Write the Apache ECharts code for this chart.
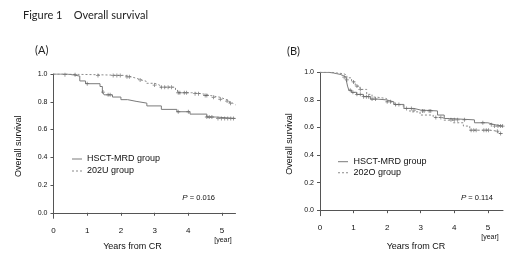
<!DOCTYPE html>
<html><head><meta charset="utf-8">
<script src="https://cdn.jsdelivr.net/npm/echarts@6/dist/echarts.min.js"></script>
<style>html,body{margin:0;padding:0;background:#fff}#c{width:520px;height:259px}</style>
</head><body><div id="c"></div>
<script>
// ---- Data ----
const yTicks = [0, 0.2, 0.4, 0.6, 0.8, 1.0];
const xTicks = [0, 1, 2, 3, 4, 5];

// Panel A: HSCT-MRD group vs 202U group  [years, survival]
const hsctA = [[0,1],[0.4,0.993],[0.6,0.985],[0.78,0.95],[0.95,0.93],[1.38,0.91],[1.45,0.87],[1.5,0.85],[1.75,0.834],[2.0,0.815],[2.2,0.803],[2.45,0.79],[2.77,0.77],[3.2,0.745],[3.66,0.728],[4.05,0.711],[4.55,0.69],[4.8,0.68],[5.4,0.68]];
const u202A = [[0,1],[0.3,0.995],[1.25,0.99],[2.1,0.98],[2.3,0.97],[2.45,0.957],[2.6,0.948],[2.75,0.933],[3.0,0.92],[3.15,0.905],[3.62,0.885],[3.68,0.865],[4.1,0.858],[4.4,0.845],[4.65,0.832],[4.95,0.818],[5.1,0.805],[5.22,0.79],[5.32,0.778],[5.4,0.778]];
const hsctACens = [1.0, 1.47, 1.62, 1.68, 3.7, 4.0, 4.55, 4.62, 4.7, 4.88, 4.98, 5.08, 5.17, 5.26, 5.34];
const u202ACens = [0.34, 0.64, 1.32, 1.77, 1.88, 1.98, 2.18, 2.25, 2.57, 3.0, 3.2, 3.3, 3.4, 3.5, 3.7, 3.75, 3.88, 3.95, 4.2, 4.3, 4.5, 4.55, 4.75, 4.95, 5.15, 5.25];

// Panel B: HSCT-MRD group vs 202O group
const hsctB = [[0,1],[0.25,0.995],[0.4,0.99],[0.5,0.985],[0.6,0.975],[0.7,0.965],[0.78,0.945],[0.82,0.9],[0.86,0.87],[0.94,0.855],[1.09,0.84],[1.29,0.823],[1.5,0.806],[1.7,0.8],[1.98,0.786],[2.2,0.767],[2.5,0.738],[2.8,0.726],[3.0,0.72],[3.5,0.69],[3.7,0.665],[3.85,0.655],[4.6,0.634],[5.0,0.62],[5.2,0.61],[5.45,0.61]];
const o202B = [[0,1],[0.35,0.995],[0.5,0.99],[0.7,0.98],[0.8,0.96],[0.94,0.93],[1.05,0.9],[1.19,0.876],[1.39,0.84],[1.55,0.82],[1.69,0.81],[1.98,0.786],[2.2,0.765],[2.48,0.738],[2.68,0.713],[2.98,0.69],[3.37,0.673],[3.67,0.653],[3.97,0.634],[4.27,0.61],[4.46,0.58],[5.06,0.573],[5.3,0.556],[5.45,0.556]];
const hsctBCens = [0.72, 0.8, 0.9, 0.98, 1.1, 1.2, 1.3, 1.38, 1.45, 1.55, 1.65, 2.0, 2.1, 2.25, 2.35, 2.72, 2.8, 3.05, 3.1, 3.25, 3.3, 3.9, 4.0, 4.1, 4.3, 4.85, 5.1, 5.2, 5.3, 5.38, 5.44];
const o202BCens = [1.0, 1.1, 1.2, 2.58, 3.45, 3.6, 4.5, 4.58, 4.65, 4.88, 4.95, 5.02, 5.28, 5.38];

const labelsA = ['HSCT-MRD group', '202U group'];
const labelsB = ['HSCT-MRD group', '202O group'];

// step lookup of a KM curve at time t
function stepAt(curve, t){ let v = curve[0][1]; for (const p of curve){ if (p[0] <= t) v = p[1]; } return v; }
function cens(curve, times){ return times.map(t => [t, stepAt(curve, t)]); }

const FONT = 'Liberation Sans';
const plus = 'path://M2,0h1v2h2v1h-2v2h-1v-2h-2v-1h2z';
const solidIcon = 'path://M0,0h10v1h-10z';
const dashIcon = 'path://M0,0h2v1h-2zM4,0h2v1h-2zM8,0h2v1h-2z';

function axesFor(gi, xmax, nameGap){
  return {
    x: {type:'value', gridIndex:gi, min:0, max:xmax,
        axisLine:{show:true, lineStyle:{color:'#555', width:1}},
        axisTick:{show:true, length:3, lineStyle:{color:'#555'}, customValues:xTicks},
        axisLabel:{fontFamily:FONT, fontSize:8, color:'#111', margin:8, customValues:xTicks, formatter:v=>String(v)},
        splitLine:{show:false}},
    y: {type:'value', gridIndex:gi, min:-0.04, max:1.0,
        name:'Overall survival', nameLocation:'middle', nameGap:nameGap, nameRotate:90,
        nameTextStyle:{fontFamily:FONT, fontSize:9, color:'#111'},
        axisLine:{show:true, lineStyle:{color:'#555', width:1}},
        axisTick:{show:true, length:3, lineStyle:{color:'#555'}, customValues:yTicks},
        axisLabel:{fontFamily:FONT, fontSize:7, color:'#111', margin:6, customValues:yTicks, formatter:v=>v.toFixed(1)},
        splitLine:{show:false}}
  };
}
const aA = axesFor(0, 5.4, 30), aB = axesFor(1, 5.45, 26);

function km(name, data, xi, dashed){
  return {type:'line', name:name, xAxisIndex:xi, yAxisIndex:xi, data:data, step:'end', symbol:'none',
    lineStyle:{color: dashed ? '#8a8a8a' : '#7a7a7a', width:1, type: dashed ? [2,2] : 'solid'},
    itemStyle:{color: dashed ? '#8a8a8a' : '#7a7a7a'}, animation:false, z:2};
}
function cs(data, xi){
  return {type:'scatter', xAxisIndex:xi, yAxisIndex:xi, data:data, symbol:plus, symbolSize:4,
    itemStyle:{color:'#666'}, animation:false, silent:true, z:3};
}

function txt(t, x, y, size, align){
  return {type:'text', x:x, y:y, style:{text:t, font: size+'px "'+FONT+'"', fill:'#111', textAlign:align||'left', textVerticalAlign:'middle'}};
}
function legendOf(labels, left, top, w, gap){
  return {data:[{name:labels[0], icon:solidIcon},{name:labels[1], icon:dashIcon}],
    orient:'vertical', left:left, top:top, itemWidth:w, itemHeight:1, itemGap:gap, padding:0,
    textStyle:{fontFamily:FONT, fontSize:9, color:'#111', lineHeight:10}, selectedMode:false};
}

const option = {
  animation:false,
  grid:[
    {left:53.5, top:74, width:182, height:144.3},
    {left:320, top:72.3, width:183, height:143.4}
  ],
  xAxis:[aA.x, aB.x],
  yAxis:[aA.y, aB.y],
  legend:[ legendOf(labelsA, 72, 154, 10, 2), legendOf(labelsB, 338, 156.7, 11, 1) ],
  series:[
    km(labelsA[0], hsctA, 0, false),
    km(labelsA[1], u202A, 0, true),
    cs(cens(hsctA, hsctACens), 0),
    cs(cens(u202A, u202ACens), 0),
    km(labelsB[0], hsctB, 1, false),
    km(labelsB[1], o202B, 1, true),
    cs(cens(hsctB, hsctBCens), 1),
    cs(cens(o202B, o202BCens), 1)
  ],
  graphic:[
    {type:'text', x:23, y:15, style:{text:'Figure 1    Overall survival', font:'11px Lato', fill:'#222', textVerticalAlign:'middle'}},
    {type:'text', x:35, y:50, style:{text:'(A)', font:'11px Lato', fill:'#222', textVerticalAlign:'middle'}},
    {type:'text', x:287, y:51, style:{text:'(B)', font:'11px Lato', fill:'#222', textVerticalAlign:'middle'}},
    txt('Years from CR', 132.5, 246.5, 9, 'center'),
    txt('Years from CR', 416, 246.5, 9, 'center'),
    txt('[year]', 223, 240.5, 7, 'center'),
    txt('[year]', 490, 237.5, 7, 'center'),
    {type:'text', x:215, y:198, style:{text:'{i|P} = 0.016', textAlign:'right', textVerticalAlign:'middle', rich:{i:{fontStyle:'italic', fontFamily:FONT, fontSize:8, fill:'#111'}}, font:'7.5px "'+FONT+'"', fill:'#111'}},
    {type:'text', x:493, y:198, style:{text:'{i|P} = 0.114', textAlign:'right', textVerticalAlign:'middle', rich:{i:{fontStyle:'italic', fontFamily:FONT, fontSize:8, fill:'#111'}}, font:'7.5px "'+FONT+'"', fill:'#111'}}
  ]
};
const chart = echarts.init(document.getElementById('c'), null, {renderer:'canvas'});
chart.setOption(option);
</script></body></html>
